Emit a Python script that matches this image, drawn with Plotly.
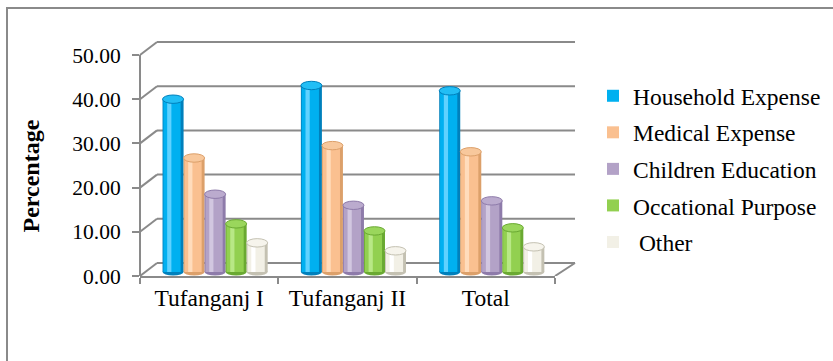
import plotly.graph_objects as go

categories = ["Tufanganj I", "Tufanganj II", "Total"]
series_names = ["Household Expense", "Medical Expense", "Children Education",
                "Occational Purpose", " Other"]
household = [39.1, 42.2, 41.0]
medical = [25.8, 28.6, 27.2]
children = [17.6, 15.1, 16.1]
occasional = [10.9, 9.3, 10.0]
other = [6.6, 4.8, 5.7]
y_ticks = [0, 10, 20, 30, 40, 50]

series_values = [household, medical, children, occasional, other]
# (dark edge, main, highlight, top face)
palette = [
    ("#0080BC", "#00B0F0", "#5FD2FF", "#22BEF5"),
    ("#DCA06A", "#FAC090", "#FFDCBC", "#F8C89C"),
    ("#8E7BAA", "#B3A2C7", "#D2C7E0", "#BBABCE"),
    ("#6AA932", "#92D050", "#B8E886", "#9AD65C"),
    ("#C4C1B2", "#F2F0E6", "#FFFFFF", "#F6F4EC"),
]

FONT = "Liberation Serif"
GRAY = "#8a8a8a"
W, H = 833, 361
ML, MR, MT, MB = 140, 258, 41, 85
PW = W - ML - MR
PH = H - MT - MB
PX_PER_UNIT = (276 - 55) / 50.0
YMAX = PH / PX_PER_UNIT
DEPTH_Y = 13 / PX_PER_UNIT        # back wall lift (3D depth)
DEPTH_X = 17 / PW                 # back wall shift
FLOOR = 0.9                        # bar floor depth lift
BW = 0.152                         # bar width (category units)
START = -0.337

fig = go.Figure()
shapes = []

for k, (name, vals) in enumerate(zip(series_names, series_values)):
    dark, main, hi, top = palette[k]
    s = START + k * BW
    fig.add_trace(go.Bar(x=categories, y=vals, base=FLOOR, offset=s, width=BW,
                         marker=dict(color=dark, line=dict(width=0)),
                         showlegend=False, legendgroup=name, hoverinfo="skip"))
    fig.add_trace(go.Bar(x=categories, y=vals, base=FLOOR, offset=s + 0.04 * BW,
                         width=0.82 * BW,
                         marker=dict(color=main, line=dict(width=0)),
                         name=name, legendgroup=name, showlegend=True))
    fig.add_trace(go.Bar(x=categories, y=vals, base=FLOOR, offset=s + 0.22 * BW,
                         width=0.2 * BW,
                         marker=dict(color=hi, line=dict(width=0)),
                         showlegend=False, legendgroup=name, hoverinfo="skip"))
    for i, v in enumerate(vals):
        # top face
        shapes.append(dict(type="circle", xref="x", yref="y",
                           x0=i + s, x1=i + s + BW,
                           y0=FLOOR + v - 0.95, y1=FLOOR + v + 0.95,
                           fillcolor=top, line=dict(color=dark, width=1),
                           layer="above"))
        # rounded bottom
        shapes.append(dict(type="circle", xref="x", yref="y",
                           x0=i + s, x1=i + s + BW,
                           y0=FLOOR - 0.8, y1=FLOOR + 0.8,
                           fillcolor=dark, line=dict(width=0),
                           layer="below"))

# 3D frame: back gridlines, left wall diagonals, floor
for v in y_ticks:
    shapes.append(dict(type="line", xref="paper", yref="y",
                       x0=DEPTH_X, x1=1, y0=v + DEPTH_Y, y1=v + DEPTH_Y,
                       line=dict(color=GRAY, width=2), layer="below"))
    shapes.append(dict(type="line", xref="paper", yref="y",
                       x0=0, x1=DEPTH_X, y0=v, y1=v + DEPTH_Y,
                       line=dict(color=GRAY, width=2), layer="below"))
shapes.append(dict(type="line", xref="paper", yref="y", x0=0, x1=0,
                   y0=0, y1=y_ticks[-1], line=dict(color=GRAY, width=2)))
shapes.append(dict(type="line", xref="paper", yref="y",
                   x0=415 / PW, x1=1, y0=0, y1=DEPTH_Y,
                   line=dict(color=GRAY, width=2), layer="below"))
# chart border (right/bottom edges cropped)
shapes.append(dict(type="rect", xref="paper", yref="paper",
                   x0=(7 - ML) / PW, x1=(W + 20 - ML) / PW,
                   y0=-(H + 20 - MT - PH) / PH - 0.2, y1=(MT + PH - 8) / PH,
                   line=dict(color=GRAY, width=2), fillcolor="rgba(0,0,0,0)",
                   layer="below"))

fig.update_layout(
    width=W, height=H,
    margin=dict(l=ML, r=MR, t=MT, b=MB, pad=0, autoexpand=False),
    barmode="overlay",
    paper_bgcolor="white", plot_bgcolor="rgba(0,0,0,0)",
    font=dict(family=FONT, color="black"),
    shapes=shapes,
    xaxis=dict(type="category", categoryorder="array", categoryarray=categories,
               domain=[0, 415 / PW], range=[-0.5, 2.5],
               showgrid=False, zeroline=False, showline=True,
               linecolor=GRAY, linewidth=2,
               ticks="outside", tickson="boundaries", ticklen=6,
               tickcolor=GRAY, tickwidth=2,
               tickfont=dict(size=23.5, family=FONT, color="black")),
    yaxis=dict(range=[0, YMAX], tickvals=y_ticks, tickformat=".2f",
               showgrid=False, zeroline=False, showline=False,
               ticks="outside", ticklen=7, tickcolor=GRAY, tickwidth=2,
               ticklabelstandoff=7,
               tickfont=dict(size=21.5, family=FONT, color="black")),
    legend=dict(x=(593 - ML) / PW, xanchor="left", y=(MT + PH - 74) / PH,
                yanchor="top", font=dict(size=23.5, family=FONT, color="black"),
                tracegroupgap=3, itemwidth=30, traceorder="grouped",
                bgcolor="rgba(0,0,0,0)"),
    annotations=[dict(text="<b>Percentage</b>", textangle=-90,
                      xref="paper", yref="paper",
                      x=(30 - ML) / PW, y=(MT + PH - 175.5) / PH,
                      xanchor="center", yanchor="middle", showarrow=False,
                      font=dict(size=24, family=FONT, color="black"))],
)

fig.write_html("out.html")
